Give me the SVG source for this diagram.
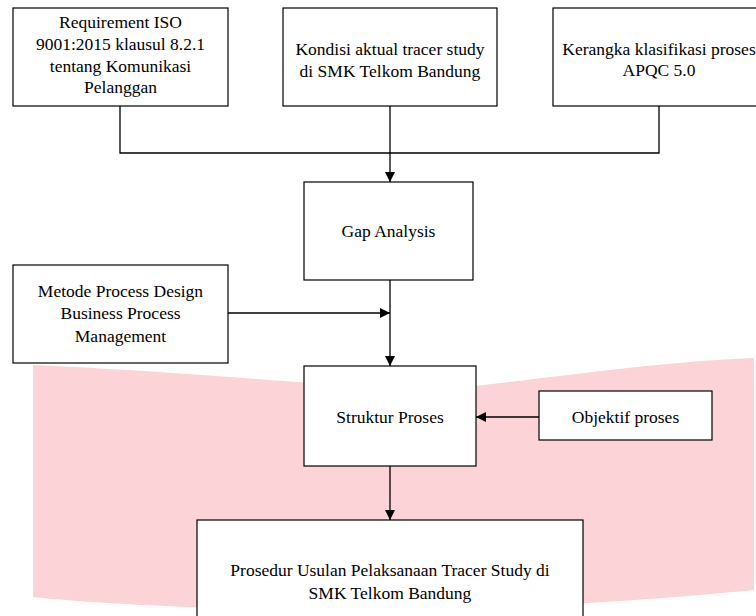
<svg xmlns="http://www.w3.org/2000/svg" width="756" height="616" viewBox="0 0 756 616">
<style>
.box{fill:#fff;stroke:#000;stroke-width:1.2}
.t{font-family:'Liberation Serif','Times New Roman',Times,serif;font-size:17.5px;fill:#000;text-anchor:middle}
.ln{fill:none;stroke:#000;stroke-width:1.3}
</style>
<defs>
<marker id="ah" viewBox="0 0 10 10" refX="10" refY="5" markerWidth="10" markerHeight="10" markerUnits="userSpaceOnUse" orient="auto">
<path d="M0,0 L10,5 L0,10 Z" fill="#000"/>
</marker>
</defs>
<rect width="756" height="616" fill="#fff"/>
<path d="M33,365 C150,370 300,382 420,392 C540,380 650,362 754,358 L754,590 C650,600 500,612 300,610 C180,608 90,603 33,597 Z" fill="#fcd3d6"/>
<g id="connectors">
<polyline class="ln" points="120,106 120,153 659,153 659,106"/>
<line class="ln" x1="390" y1="106" x2="390" y2="182" marker-end="url(#ah)"/>
<line class="ln" x1="390" y1="280" x2="390" y2="366" marker-end="url(#ah)"/>
<line class="ln" x1="228" y1="313" x2="390" y2="313" marker-end="url(#ah)"/>
<line class="ln" x1="539" y1="417" x2="476" y2="417" marker-end="url(#ah)"/>
<line class="ln" x1="390" y1="466" x2="390" y2="520" marker-end="url(#ah)"/>
</g>
<g id="req">
<rect class="box" x="13" y="8" width="215" height="98"/>
<text class="t" x="120.5" y="28">Requirement ISO</text>
<text class="t" x="120.5" y="50">9001:2015 klausul 8.2.1</text>
<text class="t" x="120.5" y="71.5">tentang Komunikasi</text>
<text class="t" x="120.5" y="93">Pelanggan</text>
</g>
<g id="kondisi">
<rect class="box" x="283" y="8" width="214" height="98"/>
<text class="t" x="390" y="55">Kondisi aktual tracer study</text>
<text class="t" x="390" y="77">di SMK Telkom Bandung</text>
</g>
<g id="kerangka">
<rect class="box" x="553" y="8" width="210" height="98"/>
<text class="t" x="659" y="55">Kerangka klasifikasi proses</text>
<text class="t" x="659" y="76">APQC 5.0</text>
</g>
<g id="gap">
<rect class="box" x="304" y="182" width="169" height="98"/>
<text class="t" x="388.5" y="237">Gap Analysis</text>
</g>
<g id="metode">
<rect class="box" x="13" y="265" width="215" height="98"/>
<text class="t" x="120.5" y="297">Metode Process Design</text>
<text class="t" x="120.5" y="319">Business Process</text>
<text class="t" x="120.5" y="342">Management</text>
</g>
<g id="struktur">
<rect class="box" x="304" y="366" width="172" height="100"/>
<text class="t" x="390" y="423">Struktur Proses</text>
</g>
<g id="objektif">
<rect class="box" x="539" y="391" width="173" height="49"/>
<text class="t" x="625.5" y="423">Objektif proses</text>
</g>
<g id="prosedur">
<rect class="box" x="197" y="520" width="386" height="120"/>
<text class="t" x="390" y="576">Prosedur Usulan Pelaksanaan Tracer Study di</text>
<text class="t" x="390" y="599">SMK Telkom Bandung</text>
</g>
</svg>
